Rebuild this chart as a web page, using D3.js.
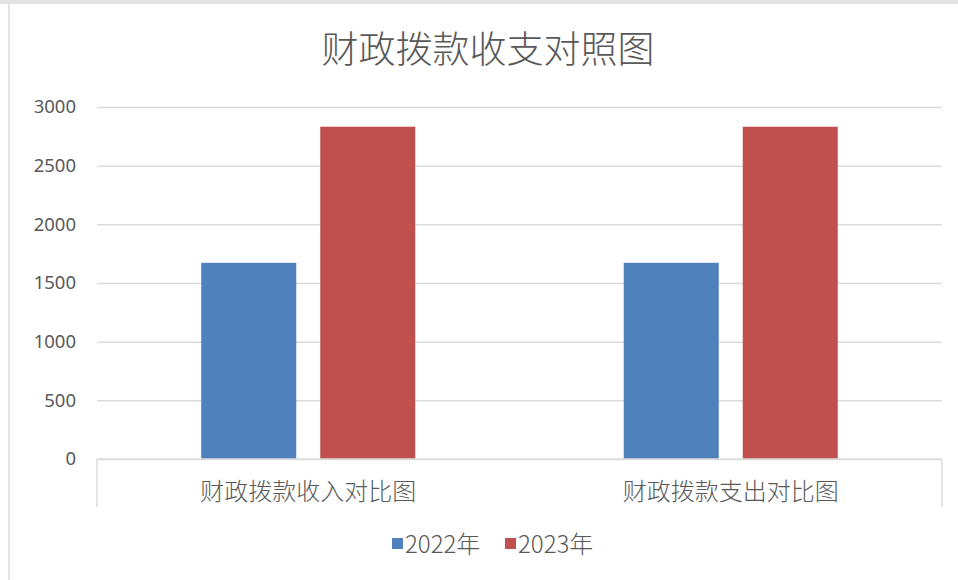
<!DOCTYPE html>
<html>
<head>
<meta charset="utf-8">
<script src="https://cdn.jsdelivr.net/npm/d3@7"></script>
<style>
  html, body { margin: 0; padding: 0; background: #fff; }
  svg { display: block; }
</style>
</head>
<body>
<div id="chart"></div>
<script>
// ---- Data ----
const title = '财政拨款收支对照图';
const categories = ['财政拨款收入对比图', '财政拨款支出对比图'];
const seriesNames = ['2022年', '2023年'];
const values2022 = [1672, 1672];
const values2023 = [2832, 2832];
const yTicks = [0, 500, 1000, 1500, 2000, 2500, 3000];

const seriesColors = ['#4f81bd', '#c0504d'];
const textColor = '#595959';
const gridColor = '#dcdcdc';
const cjkFont = '"Noto Sans CJK SC", "Noto Sans", sans-serif';
const numFont = '"Noto Sans", "Liberation Sans", sans-serif';

const W = 958, H = 580;
const margin = { top: 107, right: 16, bottom: 121, left: 97 };
const innerW = W - margin.left - margin.right;
const innerH = H - margin.top - margin.bottom;

const svg = d3.select('#chart').append('svg')
  .attr('width', W)
  .attr('height', H);

// ---- Frame (screenshot edges) ----
svg.append('rect').attr('x', 0).attr('y', 0).attr('width', W).attr('height', 4).attr('fill', '#e3e3e3');
svg.append('rect').attr('x', 8).attr('y', 4).attr('width', 2).attr('height', H - 4).attr('fill', '#e3e3e3');

// ---- Title ----
svg.append('text')
  .attr('x', 488)
  .attr('y', 63)
  .attr('text-anchor', 'middle')
  .style('font-family', cjkFont)
  .style('font-size', '37px')
  .style('font-weight', '300')
  .style('fill', textColor)
  .text(title);

const g = svg.append('g')
  .attr('transform', `translate(${margin.left},${margin.top})`);

// ---- Scales ----
const x0 = d3.scaleBand().domain(categories).range([0, innerW]).paddingInner(0).paddingOuter(0);
const x1 = d3.scaleBand().domain(seriesNames).range([0, x0.bandwidth()])
  .paddingInner(0.2017).paddingOuter(0.876);
const y = d3.scaleLinear().domain([0, 3000]).range([innerH, 0]);

// ---- Grid ----
g.append('g')
  .call(d3.axisLeft(y).tickValues(yTicks).tickSize(-innerW).tickFormat(''))
  .call(s => s.select('.domain').remove())
  .call(s => s.selectAll('line').attr('stroke', gridColor).attr('stroke-width', 1.5));

// ---- Y labels ----
g.append('g')
  .selectAll('text')
  .data(yTicks)
  .enter().append('text')
  .attr('x', -21)
  .attr('y', d => y(d))
  .attr('dy', '0.35em')
  .attr('text-anchor', 'end')
  .style('font-family', numFont)
  .style('font-size', '18.5px')
  .style('fill', textColor)
  .text(d => d);

// ---- Bars ----
const rows = categories.map((c, i) => ({ cat: c, vals: [values2022[i], values2023[i]] }));
g.append('g').selectAll('g')
  .data(rows)
  .enter().append('g')
  .attr('transform', d => `translate(${x0(d.cat)},0)`)
  .selectAll('rect')
  .data(d => d.vals.map((v, j) => ({ s: seriesNames[j], v, j })))
  .enter().append('rect')
  .attr('x', d => x1(d.s))
  .attr('y', d => y(d.v))
  .attr('width', x1.bandwidth())
  .attr('height', d => y(0) - y(d.v))
  .attr('fill', d => seriesColors[d.j]);

// ---- X axis ----
const xAxis = g.append('g').attr('transform', `translate(0,${innerH})`);
xAxis.append('line')
  .attr('x1', 0).attr('x2', innerW)
  .attr('stroke', gridColor).attr('stroke-width', 1.5);
xAxis.selectAll('line.edge')
  .data([0, innerW])
  .enter().append('line')
  .attr('class', 'edge')
  .attr('x1', d => d).attr('x2', d => d)
  .attr('y1', 0).attr('y2', 48)
  .attr('stroke', gridColor).attr('stroke-width', 1.5);
xAxis.selectAll('text')
  .data(categories)
  .enter().append('text')
  .attr('x', d => x0(d) + x0.bandwidth() / 2)
  .attr('y', 41)
  .attr('text-anchor', 'middle')
  .style('font-family', cjkFont)
  .style('font-size', '24px')
  .style('font-weight', '300')
  .style('fill', textColor)
  .text(d => d);

// ---- Legend ----
const legendX = [392, 505];
const legend = svg.append('g');
seriesNames.forEach((name, i) => {
  legend.append('rect')
    .attr('x', legendX[i]).attr('y', 538)
    .attr('width', 11).attr('height', 11)
    .attr('fill', seriesColors[i]);
  legend.append('text')
    .attr('x', legendX[i] + 13)
    .attr('y', 553)
    .style('font-family', cjkFont)
    .style('font-size', '24px')
    .style('font-weight', '300')
    .style('fill', textColor)
    .text(name);
});
</script>
</body>
</html>
